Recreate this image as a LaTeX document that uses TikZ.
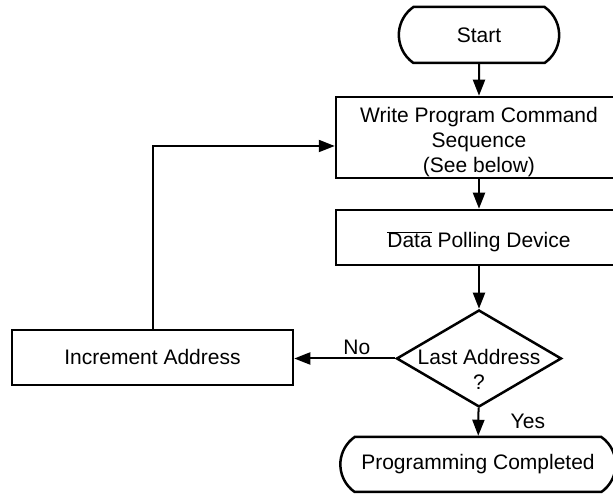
\documentclass[tikz,border=0pt]{standalone}
\usepackage{fontspec}
\setmainfont{Liberation Sans}
\usetikzlibrary{arrows.meta}
\usetikzlibrary{shapes.geometric,shapes.misc}

\begin{document}
\begin{tikzpicture}[x=1pt,y=1pt,node distance=100pt,
    every node/.style={font=\fontsize{21}{25}\selectfont}, align=center]
		\tikzset{%
  >={Triangle[length=16pt,width=12pt]},
  % Specifications for style of nodes:
            terminal/.style = {rounded rectangle, rounded rectangle arc length=110,
                           draw=black, line width=2.5pt,
                           minimum height=56pt, text centered},
  process/.style = {rectangle, draw=black, line width=2.5pt,
                           minimum width=286pt, minimum height=55pt},
       decision/.style = {diamond, draw=black, line width=2.5pt, aspect=1.7,
                           inner sep=-15pt, minimum width=165pt, minimum height=97pt},
    flow/.style = {->, line width=2pt},
}
  \clip (0,0) rectangle (613,494);
  % Specification of nodes (position, etc.)

  \node (start) [terminal, minimum width=167pt] at (479,459) {Start};
  \node (write) [process, below of=start, yshift=-2.5pt, minimum height=81pt,
        label={[align=center, yshift=-5pt]center:Write Program Command\\Sequence\\(See below)}] {};
	\node (poll) [process, below of=write, text height=25pt, text depth=4pt]
        {$\overline{\mbox{Data}}$ Polling Device};

	\node (last) [decision, below of=poll, yshift=-21pt,
        label={[align=center, yshift=-11pt]center:Last Address\\?}] {};
	\node (done) [terminal, below of=last, yshift=-6pt, xshift=-1pt,
        minimum width=282pt, minimum height=55pt] {Programming Completed};

	\node (incr) [process, left of=last, xshift=-226.5pt, yshift=1pt,
        minimum width=281pt] {Increment Address};

  \coordinate (loopin) at ([yshift=-8.5pt]write.west);

  % Specification of lines between nodes specified above
\draw[flow] (start) -- (write);
\draw[flow] (write) -- (poll);
\draw[flow] (poll) -- (last);
\draw[flow] (last) -- node[pos=0.5, right=28pt] {Yes} (done);
\draw[flow] (last.west) -- node[above=-1pt, pos=0.38] {No} (incr.east |- last.west);
\draw[flow] (incr.north) |- (loopin);

  \end{tikzpicture}
\end{document}
